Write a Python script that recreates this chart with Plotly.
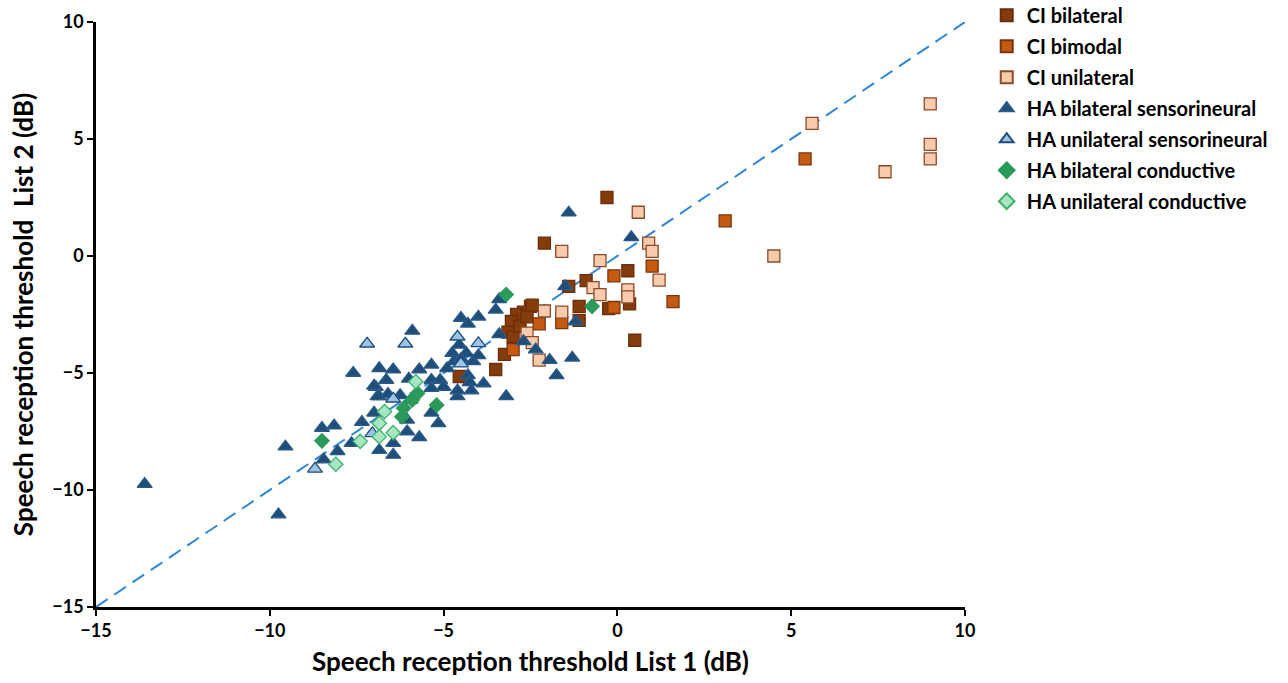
import plotly.graph_objects as go

# ---------------- data ----------------
ci_bilateral_x = [-0.3, -2.1, 0.3, -0.25, 0.5, 0.35, -0.9, -1.1, -1.1, -1.4,
                  -2.5, -2.7, -2.9, -3.05, -3.15, -3.0, -2.8, -2.6, -2.45,
                  -3.25, -3.5, -4.55]
ci_bilateral_y = [2.5, 0.55, -0.63, -2.25, -3.6, -2.05, -1.05, -2.15, -2.75, -1.3,
                  -2.15, -2.4, -2.5, -2.8, -3.25, -3.45, -3.0, -2.6, -2.1,
                  -4.2, -4.85, -5.15]

ci_bimodal_x = [5.4, 3.1, -0.1, 1.0, 1.6, -0.1, -2.25, -1.6, -3.0]
ci_bimodal_y = [4.15, 1.5, -0.85, -0.43, -1.95, -2.2, -2.9, -2.85, -4.0]

ci_unilateral_x = [9.0, 9.0, 9.0, 5.6, 7.7, 4.5, 0.6, 0.9, 1.0, 1.2, -0.5, -1.6,
                   0.3, 0.3, -0.7, -0.5, -2.1, -1.6, -2.6, -2.45, -2.25]
ci_unilateral_y = [6.5, 4.77, 4.15, 5.67, 3.6, 0.0, 1.87, 0.55, 0.2, -1.03, -0.2, 0.2,
                   -1.45, -1.75, -1.35, -1.65, -2.35, -2.4, -3.3, -3.7, -4.45]

ha_bil_sens_x = [-13.6, -9.75, -9.55,
                 -8.5, -8.15, -8.45, -8.05,
                 -7.6, -7.65, -7.35, -7.0,
                 -6.95, -6.85, -6.45, -6.65, -6.85, -6.25, -6.6, -6.0,
                 -6.85, -6.45, -6.45, -6.05, -6.05, -5.7, -5.15, -5.35,
                 -5.9, -5.7, -5.35, -5.35, -5.1, -5.35, -5.0,
                 -4.5, -4.3, -4.0, -3.5, -3.4, -3.4,
                 -4.75, -4.55, -4.35, -4.15, -4.0, -4.3, -4.25, -4.2, -3.85, -3.2, -4.6,
                 -2.7, -2.35, -1.95, -1.3, -1.75, -1.4, 0.4, -1.5, -1.2,
                 -4.7, -4.9, -4.5, -4.6, -5.95, -7.0, -6.9]
ha_bil_sens_y = [-9.75, -11.05, -8.15,
                 -7.35, -7.25, -8.7, -8.35,
                 -5.0, -8.0, -7.1, -6.7,
                 -5.6, -4.8, -4.85, -5.3, -6.0, -5.95, -5.9, -5.25,
                 -8.3, -8.5, -8.0, -7.5, -7.0, -7.75, -7.15, -6.7,
                 -3.2, -4.85, -4.65, -5.3, -5.3, -5.65, -5.6,
                 -2.65, -2.9, -2.6, -2.3, -1.85, -3.35,
                 -4.15, -3.8, -4.15, -4.5, -4.25, -5.1, -5.4, -5.75, -5.45, -6.0, -6.0,
                 -3.65, -4.0, -4.45, -4.35, -5.1, 1.85, 0.8, -1.3, -2.8,
                 -4.5, -4.8, -4.4, -5.75, -6.15, -5.55, -6.0]

ha_uni_sens_x = [-7.2, -6.1, -6.45, -7.05, -8.7, -4.6, -4.5, -4.0]
ha_uni_sens_y = [-3.75, -3.75, -6.1, -7.58, -9.1, -3.45, -4.6, -3.73]

ha_bil_cond_x = [-3.2, -0.73, -8.5, -5.2, -5.75, -5.9, -6.2, -6.15]
ha_bil_cond_y = [-1.65, -2.15, -7.9, -6.37, -5.87, -6.15, -6.87, -6.5]

ha_uni_cond_x = [-5.8, -6.85, -6.7, -6.85, -6.45, -7.4, -8.1]
ha_uni_cond_y = [-5.37, -7.15, -6.65, -7.72, -7.55, -7.92, -8.9]

diag = [-15, 10]

# ---------------- figure ----------------
FONT = "Lato"
fig = go.Figure()

fig.add_trace(go.Scatter(x=diag, y=diag, mode="lines",
                         line=dict(color="#2F86D8", width=2, dash="14px,8px"),
                         showlegend=False, hoverinfo="skip"))

def add(name, xs, ys, symbol, fill, edge, size):
    fig.add_trace(go.Scatter(
        x=xs, y=ys, mode="markers", name=name, legendgroup=name,
        marker=dict(symbol=symbol, size=size, color=fill,
                    line=dict(color=edge, width=1.3))))

add("CI bilateral", ci_bilateral_x, ci_bilateral_y, "square", "#843C0C", "#6B2E08", 12)
add("CI bimodal", ci_bimodal_x, ci_bimodal_y, "square", "#C55A11", "#7A3510", 12)
add("CI unilateral", ci_unilateral_x, ci_unilateral_y, "square", "#F8CBAD", "#8B4A2B", 12)
add("HA bilateral sensorineural", ha_bil_sens_x, ha_bil_sens_y, "triangle-up", "#1F4E79", "#2A5B88", 13)
add("HA unilateral sensorineural", ha_uni_sens_x, ha_uni_sens_y, "triangle-up", "#9DC3E6", "#1F4E79", 13)
add("HA bilateral conductive", ha_bil_cond_x, ha_bil_cond_y, "diamond", "#2A9A5B", "#2A9A5B", 11)
add("HA unilateral conductive", ha_uni_cond_x, ha_uni_cond_y, "diamond", "#A8E6C2", "#3DB36E", 11)

axis_common = dict(range=[-15, 10], dtick=5, showgrid=False, zeroline=False,
                   showline=True, linecolor="black", linewidth=2.5,
                   ticks="outside", ticklen=6, tickwidth=2, tickcolor="black",
                   tickfont=dict(family=FONT, size=18, color="black", weight="bold"))

fig.update_layout(
    width=1288, height=683,
    margin=dict(l=96, r=323, t=22, b=76, autoexpand=False),
    paper_bgcolor="white", plot_bgcolor="white",
    font=dict(family=FONT, color="black"),
    xaxis=dict(**axis_common,
               title=dict(text="Speech reception threshold List 1 (dB)",
                          font=dict(family=FONT, size=26, color="black", weight="bold"),
                          standoff=13)),
    yaxis=dict(**axis_common,
               title=dict(text="Speech reception threshold  List 2 (dB)",
                          font=dict(family=FONT, size=26, color="black", weight="bold"),
                          standoff=12)),
    legend=dict(x=1.025, y=1.045, xanchor="left", yanchor="top",
                font=dict(family=FONT, size=20, color="black", weight="bold"),
                itemsizing="constant", tracegroupgap=2, bgcolor="rgba(0,0,0,0)"),
)

fig.write_html("out.html")
